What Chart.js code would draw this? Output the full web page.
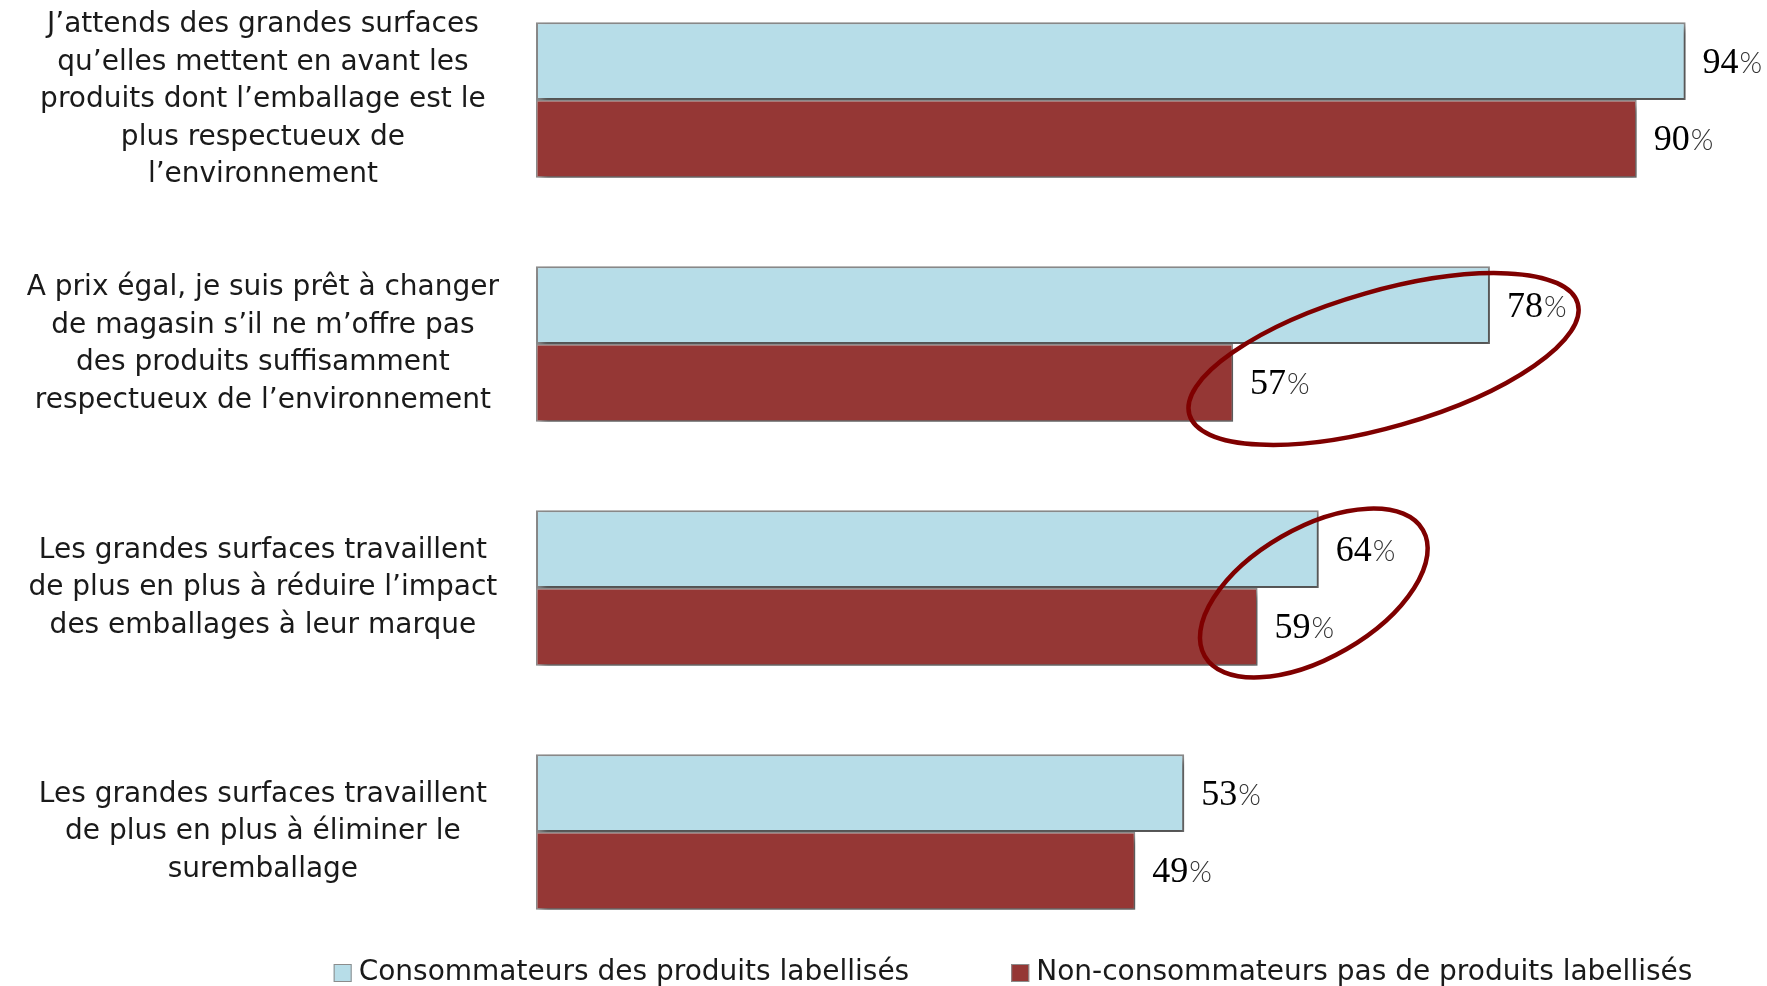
<!DOCTYPE html>
<html>
<head>
<meta charset="utf-8">
<script src="https://cdn.jsdelivr.net/npm/chart.js@4.4.1/dist/chart.umd.min.js"></script>
<style>
    html, body { margin: 0; padding: 0; background: #fff; overflow: hidden; }
    #wrap { position: absolute; left: 0; top: -22px; width: 1767px; height: 1010px; }
</style>
</head>
<body>
<div id="wrap"><canvas id="chart"></canvas></div>
<script>
const categories = [
    ['J’attends des grandes surfaces', 'qu’elles mettent en avant les', 'produits dont l’emballage est le', 'plus respectueux de', 'l’environnement'],
    ['A prix égal, je suis prêt à changer', 'de magasin s’il ne m’offre pas', 'des produits suffisamment', 'respectueux de l’environnement'],
    ['Les grandes surfaces travaillent', 'de plus en plus à réduire l’impact', 'des emballages à leur marque'],
    ['Les grandes surfaces travaillent', 'de plus en plus à éliminer le', 'suremballage'],
];
const consommateurs = [94, 78, 64, 53];
const nonConsommateurs = [90, 57, 59, 49];
const seriesNames = ['Consommateurs des produits labellisés', 'Non-consommateurs pas de produits labellisés'];

const BLUE = '#b7dde8';
const RED = '#953735';
const EDGE = '#8c8c8c';
const FONT = 'DejaVu Sans';

// highlight rings drawn over the bars (value / category anchor, size in px)
const rings = [
    { cat: 1, value: 69.3, dy: 15, rx: 202, ry: 68, angle: -16 },
    { cat: 2, value: 63.6, dy: 5, rx: 126, ry: 65, angle: -30 },
];

const shadowPlugin = {
    id: 'barShadow',
    beforeDatasetsDraw(chart) {
        const ctx = chart.ctx;
        ctx.save();
        ctx.shadowColor = 'rgba(0,0,0,0.45)';
        ctx.shadowBlur = 7;
        ctx.shadowOffsetX = 4;
        ctx.shadowOffsetY = 5;
    },
    afterDatasetsDraw(chart) {
        chart.ctx.restore();
    },
};

const valueLabels = {
    id: 'valueLabels',
    afterDatasetsDraw(chart) {
        const ctx = chart.ctx;
        ctx.save();
        ctx.textBaseline = 'middle';
        ctx.textAlign = 'left';
        chart.data.datasets.forEach((ds, i) => {
            chart.getDatasetMeta(i).data.forEach((bar, j) => {
                const num = String(ds.data[j]);
                const x = bar.x + 17;
                const y = bar.y + 2;
                ctx.font = '36px "Liberation Serif"';
                ctx.fillStyle = '#000';
                ctx.fillText(num, x, y);
                const w = ctx.measureText(num).width;
                ctx.font = '300 29px "Lato"';
                ctx.fillStyle = '#333';
                ctx.fillText('%', x + w + 1, y);
            });
        });
        ctx.restore();
    },
};

const ringPlugin = {
    id: 'rings',
    afterDatasetsDraw(chart) {
        const ctx = chart.ctx;
        const xs = chart.scales.x;
        const ys = chart.scales.y;
        ctx.save();
        ctx.strokeStyle = '#7f0000';
        ctx.lineWidth = 4.5;
        rings.forEach(r => {
            const cx = xs.getPixelForValue(r.value);
            const cy = ys.getPixelForValue(r.cat) + r.dy;
            ctx.beginPath();
            ctx.ellipse(cx, cy, r.rx, r.ry, r.angle * Math.PI / 180, 0, Math.PI * 2);
            ctx.stroke();
        });
        ctx.restore();
    },
};

const bottomLegend = {
    id: 'bottomLegend',
    afterDraw(chart) {
        const ctx = chart.ctx;
        const y = chart.chartArea.bottom + 19;
        const box = 18, gap = 7, itemGap = 102;
        ctx.save();
        ctx.font = `28px "${FONT}"`;
        ctx.textBaseline = 'middle';
        const items = chart.data.datasets.map(ds => ({
            text: ds.label, color: ds.backgroundColor, w: box + gap + ctx.measureText(ds.label).width,
        }));
        const total = items.reduce((s, it) => s + it.w, 0) + itemGap * (items.length - 1);
        let x = 1013 - total / 2;
        items.forEach(it => {
            ctx.fillStyle = it.color;
            ctx.fillRect(x, y - box / 2, box, box);
            ctx.strokeStyle = EDGE;
            ctx.lineWidth = 1;
            ctx.strokeRect(x + 0.5, y - box / 2 + 0.5, box - 1, box - 1);
            ctx.fillStyle = '#1a1a1a';
            ctx.fillText(it.text, x + box + gap, y);
            x += it.w + itemGap;
        });
        ctx.restore();
    },
};

new Chart(document.getElementById('chart'), {
    type: 'bar',
    data: {
        labels: categories,
        datasets: [
            {
                label: seriesNames[0],
                data: consommateurs,
                backgroundColor: BLUE,
                borderColor: EDGE,
                borderWidth: 2,
                borderSkipped: false,
            },
            {
                label: seriesNames[1],
                data: nonConsommateurs,
                backgroundColor: RED,
                borderColor: EDGE,
                borderWidth: 1.5,
                borderSkipped: false,
            },
        ],
    },
    options: {
        indexAxis: 'y',
        responsive: true,
        maintainAspectRatio: false,
        animation: false,
        layout: { padding: { top: 0, right: 8, bottom: 34, left: 0 } },
        datasets: {
            bar: { categoryPercentage: 0.637, barPercentage: 1 },
        },
        plugins: {
            legend: { display: false },
            tooltip: { enabled: false },
        },
        scales: {
            x: { display: false, min: 0, max: 100 },
            y: {
                grid: { display: false, drawTicks: false },
                border: { display: false },
                afterFit: (scale) => {
                    scale.width = 536;
                    scale.paddingTop = 0;
                    scale.paddingBottom = 0;
                },
                ticks: {
                    crossAlign: 'center',
                    padding: 37,
                    color: '#1a1a1a',
                    font: { family: FONT, size: 28, lineHeight: 1.34 },
                },
            },
        },
    },
    plugins: [shadowPlugin, valueLabels, ringPlugin, bottomLegend],
});
</script>
</body>
</html>
